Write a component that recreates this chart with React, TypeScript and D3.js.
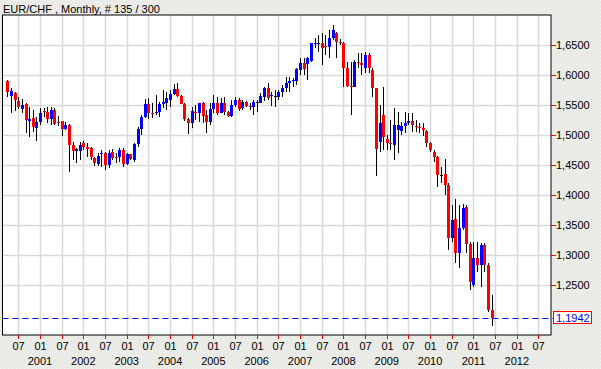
import React from "react";
import * as d3 from "d3";

// Monthly EUR/CHF candles, April 2000 .. June 2011 (135 bars)
const startYear = 2000;
const startMonth = 3; // 0-based: April
const opens = [
  1.590, 1.5656, 1.570, 1.556, 1.5433, 1.5522, 1.5239, 1.5278, 1.5122, 1.5217,
  1.540, 1.5383, 1.5272, 1.5417, 1.5217, 1.5233, 1.510, 1.5167, 1.4833, 1.4728,
  1.4739, 1.4872, 1.4794, 1.4789, 1.4622, 1.4522, 1.4678, 1.4694, 1.450, 1.4722,
  1.4639, 1.4639, 1.475, 1.4517, 1.4678, 1.4583, 1.485, 1.510, 1.5294, 1.5517,
  1.5372, 1.5361, 1.5378, 1.5522, 1.5528, 1.5583, 1.5678, 1.5767, 1.5656, 1.5517,
  1.5272, 1.5194, 1.5378, 1.5361, 1.5528, 1.5333, 1.5222, 1.5428, 1.5539, 1.5372,
  1.5528, 1.5389, 1.5317, 1.550, 1.5583, 1.5444, 1.5556, 1.5483, 1.5472, 1.5544,
  1.5539, 1.5639, 1.5778, 1.5644, 1.565, 1.5639, 1.5722, 1.5789, 1.5861, 1.590,
  1.590, 1.6083, 1.6194, 1.6178, 1.6233, 1.6511, 1.6528, 1.6528, 1.6483, 1.6472,
  1.6622, 1.6694, 1.6556, 1.6539, 1.6111, 1.5817, 1.5806, 1.6222, 1.6194, 1.6111,
  1.6333, 1.6083, 1.5778, 1.4889, 1.5333, 1.4928, 1.4861, 1.4833, 1.5083, 1.5072,
  1.515, 1.5206, 1.524, 1.5156, 1.514, 1.5111, 1.5072, 1.4861, 1.4722, 1.4639,
  1.4333, 1.435, 1.4167, 1.3278, 1.360, 1.3039, 1.3444, 1.3794, 1.3183, 1.250,
  1.2944, 1.2833, 1.3167, 1.2833, 1.2083,
];
const highs = [
  1.592, 1.5778, 1.571, 1.564, 1.5594, 1.553, 1.5472, 1.5417, 1.530, 1.5456,
  1.5456, 1.5472, 1.5472, 1.5444, 1.5317, 1.524, 1.5222, 1.518, 1.4889, 1.4778,
  1.4889, 1.490, 1.4872, 1.480, 1.4633, 1.4694, 1.475, 1.4722, 1.475, 1.4761,
  1.4706, 1.4778, 1.4778, 1.4706, 1.469, 1.4872, 1.5139, 1.5333, 1.5594, 1.5611,
  1.5528, 1.5667, 1.5556, 1.575, 1.5722, 1.575, 1.585, 1.5861, 1.566, 1.5528,
  1.528, 1.5472, 1.550, 1.5539, 1.555, 1.5417, 1.5539, 1.5667, 1.5639, 1.5611,
  1.5639, 1.540, 1.5583, 1.5639, 1.5611, 1.5583, 1.556, 1.5528, 1.5583, 1.5583,
  1.5694, 1.5806, 1.5861, 1.572, 1.575, 1.575, 1.5833, 1.5972, 1.5972, 1.5944,
  1.6111, 1.6278, 1.6278, 1.630, 1.6528, 1.6611, 1.6667, 1.6694, 1.6667, 1.675,
  1.6833, 1.6722, 1.660, 1.655, 1.6222, 1.6222, 1.625, 1.6361, 1.6372, 1.6389,
  1.6361, 1.6111, 1.5789, 1.550, 1.5806, 1.500, 1.525, 1.5444, 1.5389, 1.5222,
  1.5389, 1.5361, 1.5361, 1.525, 1.5206, 1.5194, 1.5083, 1.4889, 1.475, 1.4656,
  1.4472, 1.4594, 1.4194, 1.3833, 1.3928, 1.3833, 1.385, 1.3833, 1.3222, 1.3222,
  1.3222, 1.3194, 1.3194, 1.2861, 1.2333,
];
const lows = [
  1.564, 1.5372, 1.5406, 1.544, 1.5361, 1.5039, 1.4972, 1.5056, 1.4906, 1.5167,
  1.5306, 1.5194, 1.5167, 1.5167, 1.515, 1.4989, 1.5083, 1.4389, 1.4583, 1.4528,
  1.4583, 1.475, 1.4639, 1.4583, 1.4483, 1.4483, 1.4472, 1.4417, 1.4444, 1.4583,
  1.4539, 1.4556, 1.4472, 1.450, 1.4583, 1.4556, 1.4806, 1.500, 1.5278, 1.5261,
  1.5278, 1.5333, 1.5306, 1.5444, 1.5417, 1.5472, 1.5667, 1.5628, 1.5517, 1.5239,
  1.5017, 1.5111, 1.525, 1.5222, 1.5206, 1.504, 1.5167, 1.5361, 1.5333, 1.5361,
  1.5333, 1.5306, 1.5294, 1.5472, 1.5406, 1.5417, 1.5472, 1.5417, 1.5333, 1.5389,
  1.5528, 1.5572, 1.5583, 1.548, 1.5472, 1.5583, 1.5639, 1.5722, 1.5722, 1.5806,
  1.5833, 1.600, 1.600, 1.5917, 1.6222, 1.6444, 1.6389, 1.6167, 1.6333, 1.6278,
  1.6583, 1.6278, 1.650, 1.5806, 1.5806, 1.5333, 1.5806, 1.6111, 1.600, 1.6028,
  1.6028, 1.5639, 1.4317, 1.4722, 1.475, 1.475, 1.475, 1.4583, 1.4694, 1.500,
  1.5028, 1.5167, 1.5056, 1.5056, 1.5028, 1.4983, 1.4806, 1.4722, 1.4556, 1.4139,
  1.4194, 1.400, 1.3083, 1.3222, 1.286, 1.2778, 1.3417, 1.3028, 1.2417, 1.2472,
  1.2722, 1.2472, 1.2722, 1.2056, 1.1822,
];
const closes = [
  1.572, 1.5733, 1.5583, 1.547, 1.550, 1.525, 1.5267, 1.5139, 1.5222, 1.5372,
  1.5383, 1.526, 1.5417, 1.5183, 1.5206, 1.510, 1.5167, 1.4833, 1.4739, 1.4761,
  1.4833, 1.4806, 1.4772, 1.4639, 1.4528, 1.4656, 1.4694, 1.450, 1.4706, 1.4622,
  1.4622, 1.475, 1.4517, 1.4689, 1.460, 1.485, 1.510, 1.5294, 1.5517, 1.5372,
  1.5361, 1.5389, 1.5517, 1.5544, 1.5611, 1.5678, 1.5767, 1.5656, 1.5522, 1.5261,
  1.5194, 1.5406, 1.5372, 1.5528, 1.5317, 1.5222, 1.5428, 1.5539, 1.5372, 1.5528,
  1.5389, 1.5317, 1.550, 1.5583, 1.5428, 1.5556, 1.5483, 1.5472, 1.5556, 1.5544,
  1.565, 1.5778, 1.5622, 1.5661, 1.565, 1.5722, 1.5789, 1.5861, 1.590, 1.5911,
  1.6094, 1.6194, 1.610, 1.6278, 1.6528, 1.6528, 1.6528, 1.6456, 1.6467, 1.6622,
  1.675, 1.6556, 1.654, 1.6111, 1.5817, 1.5806, 1.6222, 1.6194, 1.6167, 1.6333,
  1.6111, 1.5778, 1.4761, 1.5194, 1.4972, 1.4861, 1.4844, 1.5167, 1.5167, 1.515,
  1.5206, 1.524, 1.5167, 1.514, 1.5111, 1.5083, 1.4861, 1.475, 1.4628, 1.4333,
  1.4333, 1.4167, 1.3278, 1.3583, 1.3039, 1.3444, 1.3778, 1.3183, 1.2556, 1.2944,
  1.2833, 1.3167, 1.2833, 1.2083, 1.1942,
];

const priceTicks = [1.2, 1.25, 1.3, 1.35, 1.4, 1.45, 1.5, 1.55, 1.6, 1.65];
const lastPrice = 1.1942;
const years = [2001, 2002, 2003, 2004, 2005, 2006, 2007, 2008, 2009, 2010, 2011, 2012];
const title = "EUR/CHF , Monthly, # 135 / 300";

const W = 601;
const H = 369;
const plot = { left: 2.5, right: 551, top: 15, bottom: 335 };

export default function App() {
  const x = d3
    .scaleLinear()
    .domain([2001 * 12, 2012 * 12])
    .range([40, 516.8]);
  const y = d3.scaleLinear().domain([1.1667, 1.7]).range([plot.bottom, plot.top]);

  const candleMonths = opens.map((_, i) => startYear * 12 + startMonth + i);
  const axisMonths = d3.range(2000 * 12 + 6, 2012 * 12 + 7, 6);

  const font = "'Liberation Sans', Arial, sans-serif";
  const fmt = (v: number) => v.toFixed(4).replace(".", ",");
  const boxTop = Math.round(y(lastPrice)) - 6.5;

  return (
    <svg
      width={W}
      height={H}
      style={{ position: "absolute", left: 0, top: 0, display: "block" }}
      fontFamily={font}
    >
      <defs>
        <pattern id="bgdots" width="4" height="4" patternUnits="userSpaceOnUse">
          <rect width="4" height="4" fill="#e9e9e5" />
          <rect x="0" y="0" width="1" height="1" fill="#f3f3f0" />
          <rect x="2" y="2" width="1" height="1" fill="#f3f3f0" />
        </pattern>
        <clipPath id="plotclip">
          <rect x={plot.left} y={plot.top} width={plot.right - plot.left} height={plot.bottom - plot.top} />
        </clipPath>
        <clipPath id="aboveBox">
          <rect x={plot.right} y={0} width={W - plot.right} height={boxTop} />
        </clipPath>
      </defs>
      <rect width={W} height={H} fill="url(#bgdots)" />
      <text x={3} y={12.5} fontSize={11} fill="#000">
        {title}
      </text>

      <rect
        x={plot.left}
        y={plot.top}
        width={plot.right - plot.left}
        height={plot.bottom - plot.top}
        fill="#ffffff"
      />

      <g clipPath="url(#plotclip)">
        {axisMonths.map((m) => (
          <line
            key={"vg" + m}
            x1={Math.round(x(m)) + 0.5}
            x2={Math.round(x(m)) + 0.5}
            y1={plot.top}
            y2={plot.bottom}
            stroke="#d9d9d9"
            strokeWidth={1.5}
          />
        ))}
        {priceTicks
          .filter((p) => p > 1.21)
          .map((p) => (
            <line
              key={"hg" + p}
              x1={plot.left}
              x2={plot.right}
              y1={Math.round(y(p)) + 0.5}
              y2={Math.round(y(p)) + 0.5}
              stroke="#d9d9d9"
              strokeWidth={1.5}
            />
          ))}

        {candleMonths.map((m, i) => {
          const cx = Math.round(x(m));
          const o = opens[i];
          const c = closes[i];
          const top = Math.round(y(Math.max(o, c)));
          const bot = Math.round(y(Math.min(o, c)));
          const color = c > o ? "#0000ff" : c < o ? "#ff0000" : "#000000";
          return (
            <g key={"c" + i}>
              <rect
                x={cx}
                y={Math.round(y(highs[i]))}
                width={1}
                height={Math.max(1, Math.round(y(lows[i])) - Math.round(y(highs[i])))}
                fill="#000"
              />
              <rect x={cx - 1} y={top} width={3} height={Math.max(1, bot - top)} fill={color} />
            </g>
          );
        })}
      </g>

      <line
        x1={plot.left}
        x2={553}
        y1={Math.round(y(lastPrice)) + 0.5}
        y2={Math.round(y(lastPrice)) + 0.5}
        stroke="#0000ff"
        strokeWidth={1}
        strokeDasharray="6,4"
      />

      <rect
        x={plot.left}
        y={plot.top}
        width={plot.right - plot.left}
        height={plot.bottom - plot.top}
        fill="none"
        stroke="#000"
        strokeWidth={1}
      />

      {priceTicks.map((p) => (
        <g key={"yt" + p} clipPath={p < 1.21 ? "url(#aboveBox)" : undefined}>
          <line
            x1={plot.right}
            x2={plot.right + 5}
            y1={Math.round(y(p)) + 0.5}
            y2={Math.round(y(p)) + 0.5}
            stroke="#ff0000"
          />
          <text x={556} y={y(p) + 4} fontSize={11} fill="#000">
            {fmt(p)}
          </text>
        </g>
      ))}

      <rect
        x={553.5}
        y={boxTop}
        width={38}
        height={12}
        fill="#ffffff"
        stroke="#ff0000"
        strokeWidth={1}
      />
      <text x={556} y={y(lastPrice) + 4} fontSize={11} fill="#0000ff">
        {fmt(lastPrice)}
      </text>

      {axisMonths.map((m) => {
        const tx = Math.round(x(m)) + 0.5;
        const mon = m % 12;
        return (
          <g key={"xt" + m}>
            <line x1={tx} x2={tx} y1={plot.bottom} y2={plot.bottom + 4} stroke="#ff0000" />
            <text x={tx} y={349.5} fontSize={11} textAnchor="middle" fill="#000">
              {mon === 0 ? "01" : "07"}
            </text>
          </g>
        );
      })}
      {years.map((yr) => (
        <text key={"yr" + yr} x={x(yr * 12)} y={365} fontSize={11} textAnchor="middle" fill="#000">
          {yr}
        </text>
      ))}
    </svg>
  );
}
